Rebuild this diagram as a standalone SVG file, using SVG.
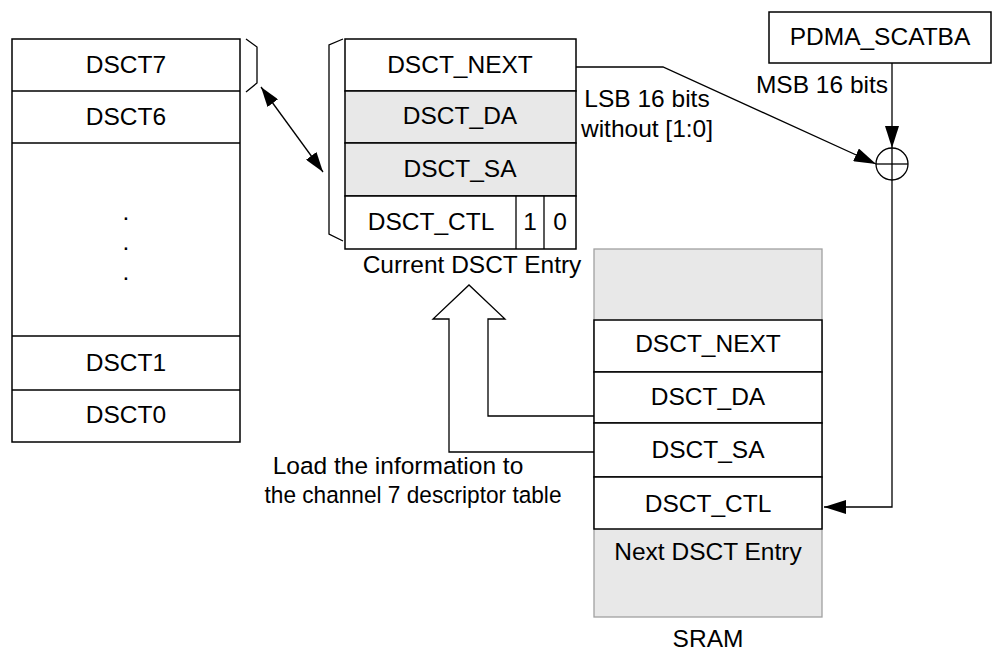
<svg xmlns="http://www.w3.org/2000/svg" width="998" height="655" viewBox="0 0 998 655">
<style>
.t{font-family:"Liberation Sans",Arial,sans-serif;font-size:24.5px;fill:#000;text-anchor:middle}
.b{fill:#fff;stroke:#000;stroke-width:1.5}
.g{fill:#e8e8e8;stroke:#000;stroke-width:1.5}
.ln{fill:none;stroke:#000;stroke-width:1.3}
</style>
<defs>
<marker id="ah" viewBox="0 0 22 14" refX="22" refY="7" markerWidth="22" markerHeight="14" orient="auto-start-reverse" markerUnits="userSpaceOnUse"><path d="M0,0 L22,7 L0,14 z" fill="#000"/></marker>
<marker id="ahs" viewBox="0 0 20 13" refX="20" refY="6.5" markerWidth="20" markerHeight="13" orient="auto-start-reverse" markerUnits="userSpaceOnUse"><path d="M0,0 L20,6.5 L0,13 z" fill="#000"/></marker>
</defs>
<rect width="998" height="655" fill="#fff"/>

<g id="channel-table">
<rect class="b" x="12" y="39" width="228" height="403"/>
<line class="ln" x1="12" y1="91" x2="240" y2="91"/>
<line class="ln" x1="12" y1="143" x2="240" y2="143"/>
<line class="ln" x1="12" y1="336" x2="240" y2="336"/>
<line class="ln" x1="12" y1="390" x2="240" y2="390"/>
<text class="t" x="126" y="73">DSCT7</text>
<text class="t" x="126" y="125">DSCT6</text>
<text class="t" x="126" y="220">.</text>
<text class="t" x="126" y="250">.</text>
<text class="t" x="126" y="280">.</text>
<text class="t" x="126" y="371">DSCT1</text>
<text class="t" x="126" y="423">DSCT0</text>
<path class="ln" d="M246,39 L257,47 L257,83 L246,92"/>
</g>

<g id="current-entry">
<path class="ln" d="M343,39 L329,45 L329,234 L343,241"/>
<rect class="b" x="345" y="39" width="231" height="52"/>
<rect class="g" x="345" y="91" width="231" height="52"/>
<rect class="g" x="345" y="143" width="231" height="53"/>
<rect class="b" x="345" y="196" width="231" height="53"/>
<line class="ln" x1="516" y1="196" x2="516" y2="249"/>
<line class="ln" x1="544" y1="196" x2="544" y2="249"/>
<text class="t" x="460" y="73">DSCT_NEXT</text>
<text class="t" x="460" y="124">DSCT_DA</text>
<text class="t" x="460" y="177">DSCT_SA</text>
<text class="t" x="431" y="230">DSCT_CTL</text>
<text class="t" x="530" y="230">1</text>
<text class="t" x="560" y="230">0</text>
<text class="t" x="472" y="273">Current DSCT Entry</text>
</g>

<g id="pdma-scatba">
<rect class="b" x="769" y="12" width="222" height="51"/>
<text class="t" x="880" y="45">PDMA_SCATBA</text>
</g>

<g id="adder">
<circle cx="892" cy="164" r="16" fill="#fff" stroke="#000" stroke-width="1.3"/>
<line class="ln" x1="876" y1="164" x2="908" y2="164"/>
<line class="ln" x1="892" y1="148" x2="892" y2="180"/>
</g>

<g id="sram">
<rect x="594" y="249" width="228" height="368" fill="#e8e8e8" stroke="#a0a0a0" stroke-width="1.3"/>
<rect class="b" x="594" y="320" width="228" height="52"/>
<rect class="b" x="594" y="372" width="228" height="51"/>
<rect class="b" x="594" y="423" width="228" height="54"/>
<rect class="b" x="594" y="477" width="228" height="52"/>
<text class="t" x="708" y="352">DSCT_NEXT</text>
<text class="t" x="708" y="405">DSCT_DA</text>
<text class="t" x="708" y="458">DSCT_SA</text>
<text class="t" x="708" y="512">DSCT_CTL</text>
<text class="t" x="708" y="560">Next DSCT Entry</text>
<text class="t" x="708" y="647">SRAM</text>
</g>

<g id="connectors">
<line class="ln" x1="261" y1="87" x2="323" y2="172" marker-start="url(#ahs)" marker-end="url(#ahs)"/>
<path class="ln" d="M576,67 L663,67 L876,164" marker-end="url(#ah)"/>
<line class="ln" x1="892" y1="63" x2="892" y2="148" marker-end="url(#ah)"/>
<path class="ln" d="M892,180 L892,507 L824,507" marker-end="url(#ah)"/>
<path class="ln" d="M594,416 L488,416 L488,319 L505,319 L469,285 L433,319 L449,319 L449,452 L594,452"/>
<text class="t" x="647" y="107">LSB 16 bits</text>
<text class="t" x="647" y="137">without [1:0]</text>
<text class="t" x="822" y="93">MSB 16 bits</text>
<text class="t" x="398" y="474">Load the information to</text>
<text class="t" x="413" y="503" textLength="297" lengthAdjust="spacingAndGlyphs">the channel 7 descriptor table</text>
</g>
</svg>
